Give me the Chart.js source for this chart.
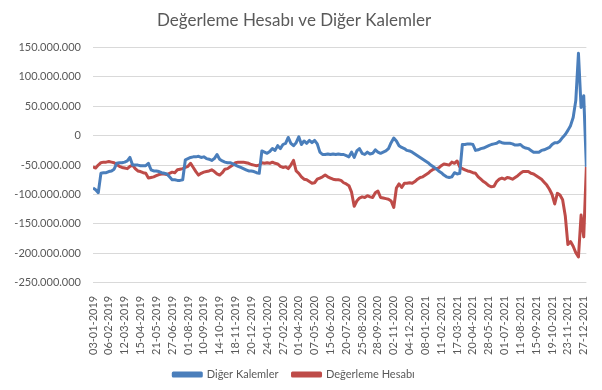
<!DOCTYPE html>
<html>
<head>
<meta charset="utf-8">
<script src="https://cdn.jsdelivr.net/npm/chart.js@4"></script>
<style>
  html, body { margin: 0; padding: 0; background: #fff; }
  #wrap { width: 602px; height: 390px; }
</style>
</head>
<body>
<div id="wrap"><canvas id="chart" width="602" height="390"></canvas></div>
<script>
// tick labels, one every 6 points
const tickLabels = [
    "03-01-2019", "06-02-2019", "12-03-2019", "15-04-2019", "21-05-2019", "27-06-2019",
    "01-08-2019", "10-09-2019", "14-10-2019", "18-11-2019", "20-12-2019", "24-01-2020",
    "27-02-2020", "01-04-2020", "07-05-2020", "15-06-2020", "20-07-2020", "25-08-2020",
    "28-09-2020", "02-11-2020", "04-12-2020", "08-01-2021", "11-02-2021", "17-03-2021",
    "20-04-2021", "28-05-2021", "01-07-2021", "11-08-2021", "15-09-2021", "19-10-2021",
    "23-11-2021", "27-12-2021"
];
const TICK_EVERY = 6;

// values in millions
const digerKalemler = [
    -89, -92, -97, -64, -63, -63, -61, -60, -57, -47,
    -46, -46, -45, -43, -37, -50, -50, -50, -51, -51,
    -51, -47, -58, -60, -60, -61, -63, -64, -65, -70,
    -75, -75, -76, -76, -75, -41, -39, -37, -36, -36,
    -35, -37, -36, -39, -40, -42, -39, -32, -40, -43,
    -45, -46, -46, -48, -50, -52, -54, -56, -58, -60,
    -60, -61, -63, -64, -26, -28, -30, -27, -22, -25,
    -17, -22, -15, -13, -3, -13, -17, -12, -2, -15,
    -9, -13, -8, -12, -8, -14, -28, -32, -32, -31,
    -32, -31, -32, -31, -32, -32, -34, -36, -28, -37,
    -26, -22, -30, -32, -28, -31, -30, -24, -28, -30,
    -28, -26, -22, -12, -4, -9, -17, -20, -22, -25,
    -26, -28, -31, -34, -37, -40, -43, -46, -50, -53,
    -56, -60, -63, -67, -70, -71, -70, -63, -65, -64,
    -15, -15, -14, -14, -15, -25, -24, -22, -21, -19,
    -17, -15, -14, -13, -10, -12, -13, -13, -13, -14,
    -16, -16, -15, -19, -21, -22, -25, -28, -28, -28,
    -25, -24, -22, -20, -15, -12, -12, -9, -3, 2,
    9, 17, 31, 60, 140, 48, 68, -53
];

const degerlemeHesabi = [
    -53, -55, -50, -46, -45, -45, -44, -45, -46, -49,
    -52, -54, -55, -56, -52, -50, -56, -60, -61, -63,
    -64, -72, -71, -70, -68, -66, -65, -65, -66, -64,
    -62, -63, -58, -57, -56, -54, -52, -47, -54, -61,
    -67, -64, -62, -61, -60, -58, -61, -65, -67, -63,
    -57, -56, -53, -50, -46, -45, -45, -45, -46, -47,
    -49, -50, -51, -50, -46, -47, -46, -47, -45, -47,
    -48, -52, -54, -53, -56, -50, -42, -60, -64, -70,
    -74, -75, -78, -81, -80, -74, -72, -70, -67, -70,
    -72, -74, -75, -75, -76, -80, -82, -85, -96, -120,
    -111, -106, -104, -105, -102, -104, -105, -97, -94, -105,
    -106, -107, -108, -111, -122, -89, -82, -88, -81, -81,
    -80, -81, -78, -74, -71, -70, -67, -64, -60, -57,
    -56, -55, -51, -48, -49, -50, -45, -47, -43, -53,
    -56, -58, -60, -61, -63, -64, -70, -74, -78, -81,
    -85, -87, -86, -78, -74, -72, -74, -71, -72, -74,
    -71, -68, -64, -61, -61, -61, -64, -65, -68, -71,
    -74, -79, -84, -91, -100, -116, -98, -101, -109, -136,
    -185, -180, -188, -199, -206, -135, -172, -53
];

const yMin = -250000000, yMax = 150000000, yStep = 50000000;

const toPoints = arr => arr.map((v, i) => ({ x: i, y: v * 1000000 }));

function fmt(v) {
    const s = Math.abs(v).toString().replace(/\B(?=(\d{3})+(?!\d))/g, ".");
    return v < 0 ? "-" + s : s;
}

const textColor = "#595959";
const font = "Lato, 'Open Sans', sans-serif";

new Chart(document.getElementById("chart"), {
    type: "line",
    data: {
        datasets: [
            {
                label: "Diğer Kalemler",
                data: toPoints(digerKalemler),
                borderColor: "#4a7ebb",
                backgroundColor: "#4a7ebb",
                borderWidth: 3,
                borderJoinStyle: "round",
                pointRadius: 0,
                tension: 0,
            },
            {
                label: "Değerleme Hesabı",
                data: toPoints(degerlemeHesabi),
                borderColor: "#be4b48",
                backgroundColor: "#be4b48",
                borderWidth: 3,
                borderJoinStyle: "round",
                pointRadius: 0,
                tension: 0,
            }
        ]
    },
    options: {
        responsive: false,
        animation: false,
        layout: { padding: { left: 0, right: 14, top: 0, bottom: 0 } },
        plugins: {
            title: {
                display: true,
                text: "Değerleme Hesabı ve Diğer Kalemler",
                color: textColor,
                font: { family: font, size: 17, weight: "normal" },
                padding: { top: 10, bottom: 17 }
            },
            legend: {
                position: "bottom",
                labels: {
                    color: textColor,
                    font: { family: font, size: 11 },
                    boxWidth: 28,
                    boxHeight: 3,
                    padding: 14
                }
            },
            tooltip: { enabled: false }
        },
        scales: {
            x: {
                type: "linear",
                min: 0,
                max: digerKalemler.length - 1,
                grid: { display: false },
                border: { display: false },
                afterBuildTicks: scale => {
                    scale.ticks = tickLabels.map((_, i) => ({ value: i * TICK_EVERY }));
                },
                afterFit: scale => { scale.height -= 5; },
                ticks: {
                    autoSkip: false,
                    minRotation: 90,
                    maxRotation: 90,
                    padding: 5,
                    color: textColor,
                    font: { family: font, size: 11 },
                    callback: v => tickLabels[Math.round(v / TICK_EVERY)]
                }
            },
            y: {
                min: yMin,
                max: yMax,
                afterFit: scale => { scale.width = 93; },
                grid: { color: "#d9d9d9", drawTicks: false },
                border: { display: false },
                ticks: {
                    stepSize: yStep,
                    padding: 12,
                    color: textColor,
                    font: { family: font, size: 11 },
                    callback: v => fmt(v)
                }
            }
        }
    }
});
</script>
</body>
</html>
